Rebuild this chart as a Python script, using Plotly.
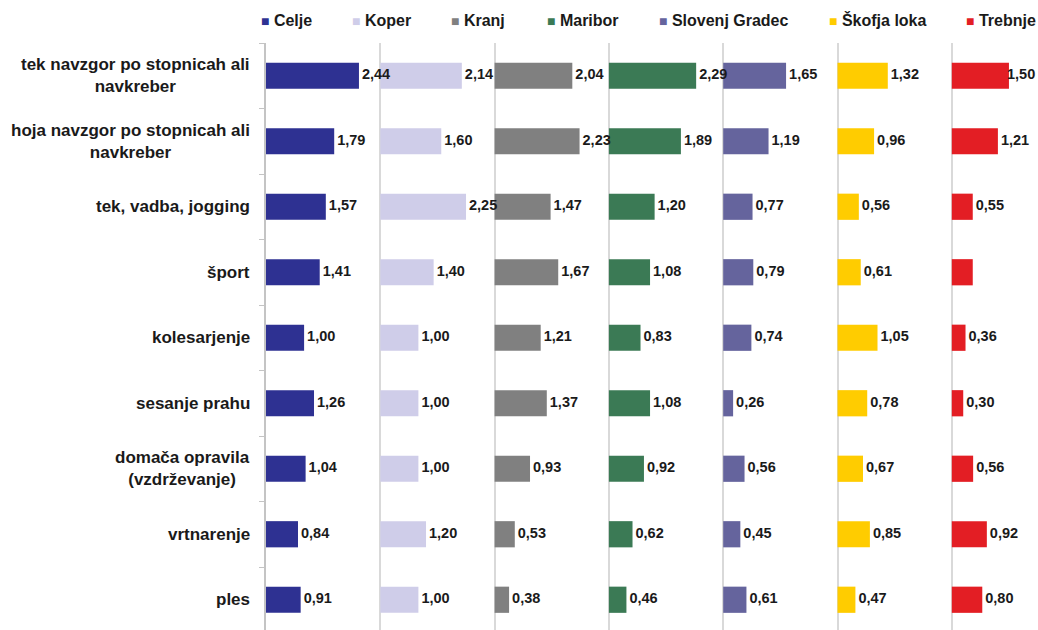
import plotly.graph_objects as go

categories = [
    "tek navzgor po stopnicah ali<br>navkreber",
    "hoja navzgor po stopnicah ali<br>navkreber",
    "tek, vadba, jogging",
    "šport",
    "kolesarjenje",
    "sesanje prahu",
    "domača opravila<br>(vzdrževanje)",
    "vrtnarenje",
    "ples",
]

towns = ["Celje", "Koper", "Kranj", "Maribor", "Slovenj Gradec", "Škofja loka", "Trebnje"]

celje = [2.44, 1.79, 1.57, 1.41, 1.00, 1.26, 1.04, 0.84, 0.91]
koper = [2.14, 1.60, 2.25, 1.40, 1.00, 1.00, 1.00, 1.20, 1.00]
kranj = [2.04, 2.23, 1.47, 1.67, 1.21, 1.37, 0.93, 0.53, 0.38]
maribor = [2.29, 1.89, 1.20, 1.08, 0.83, 1.08, 0.92, 0.62, 0.46]
slovenj_gradec = [1.65, 1.19, 0.77, 0.79, 0.74, 0.26, 0.56, 0.45, 0.61]
skofja_loka = [1.32, 0.96, 0.56, 0.61, 1.05, 0.78, 0.67, 0.85, 0.47]
trebnje = [1.50, 1.21, 0.55, 0.55, 0.36, 0.30, 0.56, 0.92, 0.80]
# value label shown? (Trebnje "šport" has no label in the original)
trebnje_label_shown = [True, True, True, False, True, True, True, True, True]

series = [celje, koper, kranj, maribor, slovenj_gradec, skofja_loka, trebnje]
colors = ["#2e3192", "#cfcde9", "#808080", "#3b7a55", "#65649d", "#ffcc00", "#e31e24"]

W, H = 1038, 630
plot_left = 266.0
px_per_unit = 38.1
panel_units = 3.0
top_px = 43.0
row_px = 65.5
label_pad_units = 3 / px_per_unit
label_w_units = 31 / px_per_unit

xmax = (W - plot_left) / px_per_unit
n_rows = len(categories)
visible_units = (H - top_px) / row_px
yrange = [-0.5 + visible_units, -0.5]
ypos = list(range(n_rows))

fig = go.Figure()
# bars (one axis, each town in its own panel offset)
for k, (vals, col, name) in enumerate(zip(series, colors, towns)):
    base = k * panel_units
    fig.add_trace(go.Bar(
        x=vals, y=ypos, base=[base] * n_rows, orientation="h", width=0.4,
        marker=dict(color=col, line=dict(width=0)),
        name=name, showlegend=False,
        hovertemplate=name + ": %{x}<extra></extra>",
    ))

# value labels on top of all bars
for k, (vals, name) in enumerate(zip(series, towns)):
    base = k * panel_units
    labels = [f"{v:.2f}".replace(".", ",") for v in vals]
    if name == "Trebnje":
        labels = [l if s else "" for l, s in zip(labels, trebnje_label_shown)]
    lx = [min(base + v + label_pad_units, xmax - label_w_units) for v in vals]
    fig.add_trace(go.Scatter(
        x=lx, y=ypos, mode="text", text=labels, textposition="middle right",
        textfont=dict(family="Liberation Sans, Arial", size=14.5, color="#1a1a1a", weight="bold"),
        showlegend=False, hoverinfo="skip", cliponaxis=False,
    ))

annotations = []
for i, cat in enumerate(categories):
    annotations.append(dict(
        text=cat, x=252 / W, xref="paper", y=i, yref="y",
        xanchor="right", yanchor="middle", align="center", showarrow=False,
        font=dict(family="Liberation Sans, Arial", size=17, color="#1a1a1a", weight="bold"),
    ))

legend_x = [259, 350, 449, 545, 657, 827, 964]
for name, col, lx in zip(towns, colors, legend_x):
    annotations.append(dict(
        text=f"<span style='color:{col};font-size:14px'>■</span> {name}",
        x=lx / W, xref="paper", y=1 - 20 / H, yref="paper",
        xanchor="left", yanchor="middle", showarrow=False,
        font=dict(family="Liberation Sans, Arial", size=16, color="#1a1a1a", weight="bold"),
    ))

fig.update_layout(
    width=W, height=H,
    margin=dict(l=0, r=0, t=0, b=0),
    paper_bgcolor="white", plot_bgcolor="white",
    barmode="overlay",
    annotations=annotations,
    xaxis=dict(domain=[plot_left / W, 1], range=[0, xmax], showticklabels=False,
               tickvals=[k * panel_units for k in range(1, len(towns))],
               showgrid=True, gridcolor="#d9d9d9", gridwidth=2, zeroline=False,
               ticks="", fixedrange=True),
    yaxis=dict(domain=[0, 1 - top_px / H], range=yrange, showgrid=False, zeroline=False,
               showline=True, linecolor="#c4c4c4", linewidth=1.5,
               ticks="outside", ticklen=5, tickcolor="#c4c4c4", tickwidth=1,
               tickvals=[i - 0.5 for i in range(n_rows + 1)],
               showticklabels=False, fixedrange=True),
)

fig.write_html("out.html")
